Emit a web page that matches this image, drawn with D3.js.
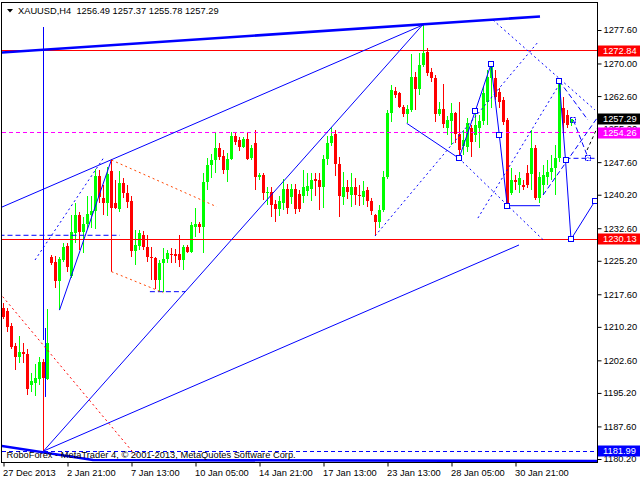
<!DOCTYPE html>
<html><head><meta charset="utf-8">
<script src="https://cdn.jsdelivr.net/npm/d3@7"></script>
<style>
body{margin:0;background:#fff}
svg{display:block}
text{font-family:"Liberation Sans",Arial,sans-serif;font-size:9.3px}
</style>
</head><body>
<svg id="c" width="640" height="480"></svg>
<script>
// ---------- DATA ----------
const symbol = "XAUUSD,H4";
const lastBar = {open: "1256.49", high: "1257.37", low: "1255.78", close: "1257.29"};
const copyright = "RoboForex - MetaTrader 4, © 2001-2013, MetaQuotes Software Corp.";

const opens = [
1214.4,1213.8,1210.4,1205.9,1203.3,1204.6,1204.0,1197.0,1197.5,1198.4,
1202.3,1198.4,1226.1,1224.9,1220.7,1225.4,1228.6,1221.7,1231.6,1235.6,
1231.8,1233.6,1235.6,1236.5,1244.5,1239.5,1238.4,1245.6,1238.4,1237.0,
1242.9,1240.7,1238.8,1227.5,1228.6,1231.1,1228.4,1226.1,1225.8,1220.8,
1224.6,1225.5,1226.7,1226.7,1226.7,1225.4,1228.3,1227.3,1232.8,1233.6,
1232.8,1243.2,1246.9,1248.1,1250.7,1249.0,1245.8,1248.3,1253.6,1252.6,
1251.1,1252.8,1248.5,1251.9,1244.2,1244.7,1240.5,1240.9,1238.1,1237.0,
1238.3,1241.6,1239.7,1241.6,1240.4,1239.9,1241.0,1241.5,1243.8,1243.5,
1242.0,1248.2,1251.9,1254.1,1247.2,1239.6,1241.9,1240.1,1241.9,1240.1,
1239.6,1241.3,1238.8,1235.6,1234.1,1236.7,1244.2,1258.7,1263.8,1263.2,
1260.2,1258.5,1259.4,1266.9,1264.2,1269.6,1272.7,1268.1,1266.6,1258.5,
1259.7,1255.3,1256.9,1258.7,1254.1,1251.3,1251.1,1255.3,1253.8,1255.3,
1256.9,1261.3,1266.8,1266.6,1263.6,1261.7,1257.2,1240.6,1243.5,1242.4,
1242.4,1245.1,1244.8,1250.9,1239.4,1242.4,1244.3,1245.4,1246.2,1248.5,
1259.9,1258.3,1256.49];
const highs = [
1215.6,1214.5,1211.1,1206.5,1208.1,1206.5,1205.2,1199.7,1201.8,1203.4,
1202.9,1214.2,1226.5,1226.3,1226.1,1229.2,1229.2,1235.6,1238.4,1236.3,
1235.2,1239.9,1239.9,1246.0,1245.8,1242.4,1246.4,1248.2,1243.5,1245.6,
1243.9,1242.4,1239.9,1232.2,1232.2,1232.0,1231.1,1228.4,1226.1,1225.4,
1228.2,1227.7,1228.0,1227.8,1231.1,1228.8,1228.8,1234.1,1237.2,1234.0,
1245.1,1248.5,1249.4,1254.5,1251.9,1250.4,1249.6,1254.5,1254.5,1253.4,
1253.4,1254.5,1251.5,1254.9,1245.1,1245.1,1241.9,1242.0,1239.0,1239.8,
1243.7,1242.6,1242.6,1242.6,1241.3,1245.8,1245.1,1245.1,1245.1,1245.1,
1249.3,1253.6,1255.6,1254.9,1248.8,1245.3,1243.5,1245.1,1243.9,1242.4,
1243.3,1242.0,1239.5,1235.8,1237.8,1245.6,1259.4,1265.1,1264.7,1263.6,
1260.6,1260.6,1272.1,1268.1,1272.3,1279.0,1273.5,1269.0,1267.4,1261.3,
1265.3,1258.1,1261.0,1259.0,1261.2,1254.9,1257.6,1256.0,1259.0,1258.3,
1264.7,1268.5,1269.8,1268.5,1264.4,1262.4,1257.6,1246.3,1244.7,1245.4,
1243.5,1246.9,1254.9,1251.5,1245.4,1246.9,1248.1,1249.2,1251.5,1266.2,
1262.4,1259.4,1257.37];
const lows = [
1212.0,1209.0,1205.2,1200.4,1202.0,1202.0,1194.7,1195.4,1194.4,1197.0,
1182.0,1198.1,1224.2,1219.0,1214.0,1224.9,1222.7,1221.4,1229.2,1227.7,
1226.9,1232.4,1232.6,1232.4,1238.3,1235.6,1235.4,1236.1,1236.9,1236.3,
1239.4,1237.1,1226.1,1224.2,1227.7,1227.7,1225.0,1220.8,1218.8,1218.2,
1218.2,1224.8,1224.6,1224.8,1223.8,1223.0,1227.0,1227.0,1230.6,1231.6,
1226.9,1241.3,1243.9,1245.1,1248.1,1244.8,1243.2,1248.1,1251.5,1250.2,
1250.7,1248.1,1248.1,1241.3,1243.5,1239.0,1237.9,1235.2,1233.9,1235.4,
1236.7,1235.9,1238.1,1235.9,1236.3,1238.3,1239.9,1238.8,1239.9,1236.7,
1237.3,1246.9,1251.3,1244.5,1235.2,1237.9,1239.2,1237.4,1237.9,1237.6,
1237.9,1237.5,1235.6,1230.8,1232.6,1236.3,1243.8,1256.8,1262.1,1259.8,
1257.9,1256.4,1259.0,1259.4,1262.8,1269.3,1267.2,1265.8,1256.7,1258.1,
1255.3,1253.8,1251.5,1251.9,1248.5,1249.2,1249.9,1248.8,1252.2,1250.7,
1256.0,1256.0,1259.9,1261.7,1259.9,1256.0,1237.6,1240.1,1241.3,1240.6,
1241.3,1241.7,1241.3,1239.0,1238.3,1240.1,1242.4,1243.5,1240.1,1247.6,
1254.4,1255.3,1255.78];
const closes = [
1212.5,1210.2,1205.6,1203.4,1204.6,1204.0,1196.1,1197.8,1198.7,1202.3,
1198.7,1206.6,1224.8,1220.7,1225.6,1228.4,1223.9,1231.8,1235.6,1231.8,
1233.6,1235.8,1236.5,1244.5,1239.6,1238.4,1244.9,1237.3,1237.3,1242.9,
1240.7,1238.6,1227.5,1228.8,1231.5,1228.3,1226.0,1225.8,1220.8,1224.7,
1225.6,1226.9,1226.5,1226.4,1225.4,1228.3,1227.3,1233.3,1233.6,1232.8,
1243.2,1246.9,1248.1,1250.7,1248.8,1245.8,1248.3,1253.6,1252.2,1251.1,
1252.8,1248.3,1250.8,1244.2,1244.7,1240.5,1240.9,1237.9,1237.0,1238.8,
1241.6,1237.2,1241.6,1237.0,1237.0,1241.9,1242.1,1243.5,1243.4,1242.0,
1248.2,1251.9,1253.5,1247.2,1239.8,1241.9,1240.9,1241.9,1240.1,1239.8,
1241.1,1238.8,1236.6,1234.1,1236.7,1244.2,1258.8,1264.0,1262.8,1260.2,
1258.5,1259.7,1266.9,1264.2,1269.6,1272.3,1267.8,1266.6,1258.5,1259.7,
1256.2,1257.2,1258.7,1253.9,1250.4,1252.6,1256.4,1252.2,1256.0,1256.9,
1263.2,1267.0,1269.4,1262.5,1261.2,1256.7,1238.3,1243.5,1243.2,1243.9,
1242.0,1242.4,1250.7,1239.4,1244.3,1244.7,1245.4,1246.3,1248.5,1265.9,
1256.5,1256.0,1257.29];

const xTickBars = [0,16,32,48,64,80,96,112,128];
const xTickLabels = ["27 Dec 2013","2 Jan 21:00","7 Jan 13:00","10 Jan 05:00","14 Jan 21:00","17 Jan 13:00","23 Jan 13:00","28 Jan 05:00","30 Jan 21:00"];
const yTicks = [1277.60,1270.00,1262.60,1255.20,1247.60,1240.20,1232.60,1225.20,1217.60,1210.20,1202.60,1195.20,1187.60,1180.20];

// horizontal levels
const resistanceLevel = 1272.84;
const supportLevel = 1230.13;
const pivotLevel = 1254.26;
const lowLevel = 1181.99;
const lastPrice = 1257.29;

// drawn objects: [bar index, price] points
const thickTrendLines = [
  [[-1, 1272.45], [134.125, 1280.66]],
  [[-1, 1183.24], [22.375, 1179.97], [148.4, 1179.75]]
];
const solidBlueLines = [
  [[10, 1182.0], [105, 1279.0]],
  [[-1, 1237.16], [105, 1278.8]],
  [[10, 1182.0], [128.875, 1228.79]],
  [[10, 1278.28], [10, 1207.22]],
  [[10.5, 1209.94], [10.5, 1194.28]],
  [[14, 1214.0], [27, 1248.2]],
  [[100.8, 1256.42], [113.875, 1248.47]],
  [[113.875, 1248.47], [117.95, 1259.21], [121.875, 1269.81], [123.95, 1253.76], [125.95, 1237.64]],
  [[125.95, 1237.71], [134.125, 1237.71]],
  [[138.95, 1266.02], [140.5, 1248.08], [141.875, 1230.08], [147.875, 1238.78]]
];
const dottedBlueLines = [
  [[7.875, 1225.38], [24.95, 1248.47]],
  [[122.375, 1279.87], [147.875, 1259.44]],
  [[92.875, 1230.83], [133.7, 1274.94]],
  [[113.875, 1248.47], [134.95, 1229.92]],
  [[118.6, 1234.9], [138.4, 1264.43]]
];
const dashedBlueLines = [
  [[-1, 1230.99], [29.1, 1230.99]],
  [[36.6, 1218.19], [45.4, 1218.19]],
  [[138.95, 1266.02], [146.1, 1257.17]],
  [[142.45, 1257.17], [146.2, 1248.47]],
  [[140.5, 1248.47], [148.4, 1248.47]],
  [[134.9, 1240.14], [148.4, 1257.62]]
];
const dashedBlackLines = [[[145.9, 1250.35], [148.4, 1255.35]]];
const orangeDottedLines = [
  [[27, 1248.08], [53.3, 1237.48]],
  [[27, 1222.73], [39.95, 1217.96]]
];
const redDottedLines = [[[-1, 1217.93], [33.375, 1180.65]]];
const redSolidLines = [[[27, 1248.08], [27, 1222.73]]];
const pivotSquares = [[113.875,1248.47],[117.95,1259.21],[121.875,1269.81],[123.95,1253.76],[125.95,1237.64],[138.95,1266.02],[140.5,1248.08],[141.875,1230.08],[147.875,1238.78]];
const dashedSquares = [[142.45,1257.17],[146.2,1248.47]];

// ---------- CHART ----------
const svg = d3.select("#c");
const L = 2, R = 597, T = 2, B = 462;
const x = d3.scaleLinear().domain([0, 142]).range([3.5, 571.5]);
const y = d3.scaleLinear().domain([1180.2, 1277.6]).range([459, 30]);

svg.append("defs").append("clipPath").attr("id","plot")
  .append("rect").attr("x",L).attr("y",T).attr("width",R-L).attr("height",B-T);

const plot = svg.append("g").attr("clip-path","url(#plot)");

const bars = d3.range(opens.length).map(i => ({i, o:opens[i], h:highs[i], l:lows[i], c:closes[i]}));
const up = "#00ff00", dn = "#ff0000";
const col = d => d.c >= d.o ? up : dn;

plot.append("g").selectAll("line").data(bars).join("line")
  .attr("x1", d => x(d.i)).attr("x2", d => x(d.i))
  .attr("y1", d => y(d.h)).attr("y2", d => y(d.l))
  .attr("stroke", col).attr("stroke-width", 1).attr("shape-rendering","crispEdges");
plot.append("g").selectAll("rect").data(bars).join("rect")
  .attr("x", d => x(d.i) - 1.5).attr("width", 3)
  .attr("y", d => y(Math.max(d.o, d.c)))
  .attr("height", d => Math.max(1, Math.abs(y(d.o) - y(d.c))))
  .attr("fill", col).attr("shape-rendering","crispEdges");

// level lines
function hline(v, color, dash){
  plot.append("line").attr("x1",L).attr("x2",R).attr("y1",y(v)).attr("y2",y(v))
    .attr("stroke",color).attr("stroke-width",1).attr("stroke-dasharray",dash||null)
    .attr("shape-rendering","crispEdges");
}
hline(resistanceLevel, "#ff0000");
hline(supportLevel, "#ff0000");
hline(pivotLevel, "#ff00ff", "4,3");
hline(lowLevel, "#0000ff", "4,3");

const lineGen = d3.line().x(p => x(p[0])).y(p => y(p[1]));
function drawLines(data, color, width, dash){
  plot.append("g").selectAll("path").data(data).join("path")
    .attr("d", lineGen).attr("fill","none").attr("stroke",color)
    .attr("stroke-width",width).attr("stroke-dasharray",dash||null);
}
drawLines(thickTrendLines, "#0000ff", 2.6);
drawLines(solidBlueLines, "#0000ff", 1);
drawLines(dottedBlueLines, "#0000ff", 1, "2,3");
drawLines(dashedBlueLines, "#0000ff", 1, "5,3");
drawLines(dashedBlackLines, "#000000", 1, "3,3");
drawLines(orangeDottedLines, "#ff4500", 1, "2,3");
drawLines(redDottedLines, "#ff0000", 1, "2,3");
drawLines(redSolidLines, "#ff0000", 1);

plot.append("g").selectAll("rect").data(pivotSquares).join("rect")
  .attr("x", p => Math.round(x(p[0])) - 2.5).attr("y", p => Math.round(y(p[1])) - 2.5)
  .attr("width",5).attr("height",5).attr("fill","#fff").attr("stroke","#0000ff").attr("stroke-width",1);
plot.append("g").selectAll("rect").data(dashedSquares).join("rect")
  .attr("x", p => Math.round(x(p[0])) - 2.5).attr("y", p => Math.round(y(p[1])) - 2.5)
  .attr("width",5).attr("height",5).attr("fill","none").attr("stroke","#0000ff")
  .attr("stroke-width",1).attr("stroke-dasharray","2,1");

// copyright text
svg.append("text").attr("x",6.5).attr("y",458).attr("fill","#000").text(copyright);

// frame
svg.append("rect").attr("x",L-0.5).attr("y",T+0.5).attr("width",R-L+1).attr("height",B-T)
  .attr("fill","none").attr("stroke","#000").attr("shape-rendering","crispEdges");

// axes
const yAxis = svg.append("g").attr("transform",`translate(${R+0.5},0)`)
  .call(d3.axisRight(y).tickValues(yTicks).tickSize(4).tickPadding(2).tickFormat(d3.format(".2f")));
yAxis.select(".domain").remove();
yAxis.selectAll("text").attr("font-family",null).attr("font-size",null).attr("fill","#000");
yAxis.selectAll("line").attr("stroke","#000");

const xAxis = svg.append("g").attr("transform",`translate(0,${B+0.5})`)
  .call(d3.axisBottom(x).tickValues(xTickBars).tickSize(4).tickPadding(3).tickFormat((d,k) => xTickLabels[k]));
xAxis.select(".domain").remove();
xAxis.selectAll("text").attr("text-anchor","start").attr("x",-1).attr("font-family",null).attr("font-size",null).attr("fill","#000");
xAxis.selectAll("line").attr("stroke","#000");

// price labels
const priceLabels = [
  {v: resistanceLevel, bg:"#ff0000"},
  {v: lastPrice, bg:"#000000"},
  {v: pivotLevel, bg:"#ff00ff"},
  {v: supportLevel, bg:"#ff0000"},
  {v: lowLevel, bg:"#0000ff"}
];
const pl = svg.append("g").selectAll("g").data(priceLabels).join("g")
  .attr("transform", d => `translate(${R+1},${Math.round(y(d.v))})`);
pl.append("rect").attr("x",0).attr("y",-5.5).attr("width",42).attr("height",11).attr("fill", d => d.bg);
pl.append("text").attr("x",5).attr("dy","0.35em").attr("fill","#fff").text(d => d3.format(".2f")(d.v));

// header
svg.append("path").attr("d", d3.line()([[7,9],[13,9],[10,12.5]]) + "Z").attr("fill","#000");
svg.append("text").attr("x",18).attr("y",13.5).attr("fill","#000").style("white-space","pre")
  .text(`${symbol}  ${lastBar.open} ${lastBar.high} ${lastBar.low} ${lastBar.close}`);
</script>
</body></html>
